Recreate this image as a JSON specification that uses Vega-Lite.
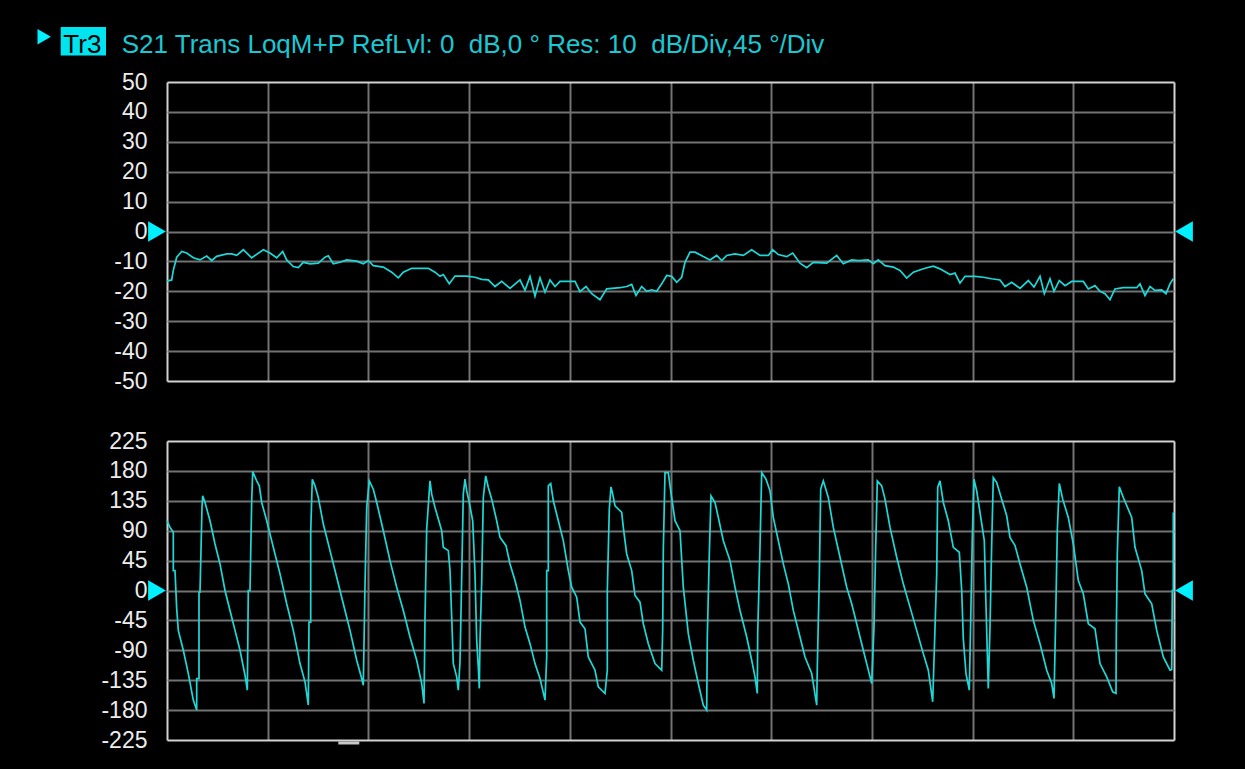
{
"$schema": "https://vega.github.io/schema/vega-lite/v6.json",
"background": "black",
"padding": {"left": 37, "top": 26, "right": 52, "bottom": 25},
"config": {"view": {"stroke": null}, "font": "Liberation Sans"},
"spacing": 60,
"bounds": "flush",
"datasets": {
"header": [{"trace": "Tr3", "desc": "S21 Trans LoqM+P RefLvl: 0\u00a0 dB,0 ° Res: 10\u00a0 dB/Div,45 °/Div"}],
"ref": [{"level": 0}],
"mag": [{"x":0,"mag":-16.6},{"x":4.7,"mag":-16.2},{"x":6.3,"mag":-13},{"x":9.7,"mag":-8.6},{"x":14.7,"mag":-6.7},{"x":19.7,"mag":-7.2},{"x":26.3,"mag":-8.8},{"x":33,"mag":-9.5},{"x":39.7,"mag":-8.2},{"x":44.7,"mag":-9.7},{"x":49.7,"mag":-8.3},{"x":59.7,"mag":-7.5},{"x":64.7,"mag":-7.5},{"x":69.7,"mag":-8},{"x":76.3,"mag":-6.1},{"x":84.7,"mag":-8.8},{"x":96.3,"mag":-6.1},{"x":103,"mag":-7.2},{"x":109.7,"mag":-8.8},{"x":115.7,"mag":-6.7},{"x":119.7,"mag":-9.5},{"x":126.3,"mag":-11.7},{"x":131.3,"mag":-12.1},{"x":136.3,"mag":-10.3},{"x":143,"mag":-10.8},{"x":151.3,"mag":-10.6},{"x":158,"mag":-8.6},{"x":161.3,"mag":-8.1},{"x":166.3,"mag":-10.8},{"x":173,"mag":-10.3},{"x":179.7,"mag":-9.5},{"x":189.7,"mag":-9.9},{"x":196.3,"mag":-10.8},{"x":201.3,"mag":-9.7},{"x":206.3,"mag":-11.4},{"x":216.3,"mag":-11.9},{"x":224.7,"mag":-13.6},{"x":231.3,"mag":-15.5},{"x":236.3,"mag":-13.6},{"x":244.7,"mag":-12.3},{"x":261.3,"mag":-12.3},{"x":268,"mag":-13.6},{"x":273,"mag":-15},{"x":276.3,"mag":-14.4},{"x":282.3,"mag":-17.5},{"x":288,"mag":-14.9},{"x":299.7,"mag":-14.9},{"x":308,"mag":-15.3},{"x":314.7,"mag":-16},{"x":321.3,"mag":-16.2},{"x":328,"mag":-18.4},{"x":334.7,"mag":-16.7},{"x":343,"mag":-19},{"x":353,"mag":-16.2},{"x":358,"mag":-19.7},{"x":363,"mag":-15},{"x":368,"mag":-21.6},{"x":373,"mag":-15.5},{"x":378,"mag":-20.3},{"x":383,"mag":-16.2},{"x":388,"mag":-18.4},{"x":393,"mag":-16.7},{"x":408,"mag":-16.7},{"x":413,"mag":-20.1},{"x":419,"mag":-18.4},{"x":424.7,"mag":-20.8},{"x":433,"mag":-22.8},{"x":439.7,"mag":-19.2},{"x":453,"mag":-18.8},{"x":459.7,"mag":-18.4},{"x":464.7,"mag":-17.7},{"x":469,"mag":-21.4},{"x":474.7,"mag":-18.4},{"x":479.7,"mag":-20},{"x":484.7,"mag":-19.5},{"x":489.7,"mag":-20},{"x":494.7,"mag":-17.5},{"x":499.7,"mag":-14.7},{"x":504.7,"mag":-15},{"x":509.7,"mag":-17},{"x":514.7,"mag":-15.3},{"x":518,"mag":-10.3},{"x":523,"mag":-6.9},{"x":528,"mag":-6.9},{"x":536.3,"mag":-8.4},{"x":543,"mag":-9.5},{"x":549.7,"mag":-8},{"x":554.7,"mag":-9.7},{"x":559.7,"mag":-8},{"x":568,"mag":-7.5},{"x":576.3,"mag":-8},{"x":584.7,"mag":-6.1},{"x":593,"mag":-8},{"x":601.3,"mag":-8},{"x":605.7,"mag":-6.1},{"x":611.3,"mag":-7.7},{"x":619.7,"mag":-8.4},{"x":625.7,"mag":-7.2},{"x":633,"mag":-10.6},{"x":639.7,"mag":-12.1},{"x":646.3,"mag":-10.3},{"x":659.7,"mag":-10.6},{"x":669.7,"mag":-8},{"x":676.3,"mag":-10.8},{"x":684.7,"mag":-9.5},{"x":691.3,"mag":-9.7},{"x":701.3,"mag":-9.5},{"x":706.3,"mag":-10.8},{"x":711.3,"mag":-9.5},{"x":718,"mag":-11.4},{"x":726.3,"mag":-11.9},{"x":733,"mag":-13},{"x":739.7,"mag":-15.6},{"x":746.3,"mag":-13.6},{"x":758,"mag":-12.3},{"x":766.3,"mag":-11.6},{"x":773,"mag":-12.5},{"x":783,"mag":-14.4},{"x":788,"mag":-13.9},{"x":793,"mag":-17.3},{"x":798,"mag":-15},{"x":808,"mag":-15},{"x":816.3,"mag":-15.3},{"x":824.7,"mag":-15.8},{"x":833,"mag":-16.2},{"x":838,"mag":-18.4},{"x":844.7,"mag":-17},{"x":853,"mag":-19},{"x":861.3,"mag":-16.4},{"x":867,"mag":-18.6},{"x":873,"mag":-15},{"x":877.3,"mag":-20.8},{"x":883,"mag":-15.8},{"x":887,"mag":-20},{"x":892.3,"mag":-16.4},{"x":898,"mag":-18.1},{"x":904.7,"mag":-16.7},{"x":916.3,"mag":-16.7},{"x":921.3,"mag":-19.2},{"x":928,"mag":-18.1},{"x":933,"mag":-20},{"x":938,"mag":-20.8},{"x":943,"mag":-22.8},{"x":948,"mag":-19.2},{"x":956.3,"mag":-18.8},{"x":969.7,"mag":-18.8},{"x":973,"mag":-17.5},{"x":978,"mag":-21.4},{"x":983,"mag":-18.4},{"x":988,"mag":-19.7},{"x":994.7,"mag":-19.5},{"x":999,"mag":-20.8},{"x":1003,"mag":-17.5},{"x":1006.3,"mag":-15.8}],
"phase": [{"x":0,"p":105},{"x":3,"p":95},{"x":6.3,"p":87.5},{"x":6.3,"p":30},{"x":8,"p":30},{"x":9.7,"p":-27.5},{"x":11.3,"p":-60},{"x":16.3,"p":-90},{"x":21.3,"p":-125},{"x":26.3,"p":-165},{"x":29.7,"p":-180},{"x":29.7,"p":-132.5},{"x":32,"p":-132.5},{"x":32,"p":-2.5},{"x":33,"p":-2.5},{"x":35,"p":125},{"x":35.7,"p":142.5},{"x":38,"p":132.5},{"x":43,"p":105},{"x":48,"p":70},{"x":53,"p":40},{"x":58,"p":0},{"x":63,"p":-30},{"x":68,"p":-60},{"x":73,"p":-90},{"x":78,"p":-127.5},{"x":80.3,"p":-150},{"x":81.3,"p":0},{"x":83,"p":0},{"x":84.7,"p":135},{"x":85.7,"p":179},{"x":89.7,"p":165},{"x":92.3,"p":157.5},{"x":94.7,"p":132.5},{"x":99.7,"p":105},{"x":106.3,"p":65},{"x":113,"p":25},{"x":119.7,"p":-20},{"x":126.3,"p":-60},{"x":133,"p":-110},{"x":138,"p":-137.5},{"x":141.3,"p":-172.5},{"x":142,"p":-47.5},{"x":143.7,"p":-47.5},{"x":143.7,"p":87.5},{"x":145.3,"p":167.5},{"x":148,"p":157.5},{"x":151.3,"p":140},{"x":156.3,"p":100},{"x":163,"p":60},{"x":169.7,"p":20},{"x":176.3,"p":-20},{"x":183,"p":-60},{"x":189.7,"p":-105},{"x":194.7,"p":-132.5},{"x":196.3,"p":-142.5},{"x":198,"p":7.5},{"x":199.7,"p":125},{"x":202.3,"p":165},{"x":206.3,"p":152.5},{"x":209.7,"p":132.5},{"x":216.3,"p":90},{"x":223,"p":45},{"x":229.7,"p":5},{"x":236.3,"p":-30},{"x":243,"p":-70},{"x":249.7,"p":-105},{"x":254.7,"p":-140},{"x":257,"p":-170},{"x":258,"p":-42.5},{"x":259.7,"p":92.5},{"x":263,"p":165},{"x":264.7,"p":145},{"x":268,"p":125},{"x":274.7,"p":90},{"x":276.3,"p":65},{"x":281.3,"p":60},{"x":283,"p":30},{"x":284.7,"p":-40},{"x":286.3,"p":-110},{"x":289.7,"p":-130},{"x":291.3,"p":-150},{"x":293,"p":-107.5},{"x":294.7,"p":20},{"x":296.3,"p":145},{"x":298,"p":167.5},{"x":299.7,"p":150},{"x":302.3,"p":132.5},{"x":305.7,"p":105},{"x":308,"p":25},{"x":309.7,"p":-75},{"x":311.3,"p":-115},{"x":312.3,"p":-147.5},{"x":313,"p":-75},{"x":314.7,"p":12.5},{"x":316.3,"p":140},{"x":318.7,"p":172.5},{"x":321.3,"p":155},{"x":324.7,"p":137.5},{"x":329.7,"p":105},{"x":333,"p":80},{"x":339,"p":67.5},{"x":343,"p":40},{"x":348,"p":15},{"x":353,"p":-15},{"x":358,"p":-55},{"x":363,"p":-80},{"x":368,"p":-110},{"x":373,"p":-132.5},{"x":378,"p":-165},{"x":379.7,"p":-100},{"x":379.7,"p":30},{"x":381.3,"p":30},{"x":381.3,"p":157.5},{"x":383.7,"p":161},{"x":386.3,"p":135},{"x":391.3,"p":105},{"x":396.3,"p":75},{"x":401.3,"p":30},{"x":404.7,"p":5},{"x":409.7,"p":-10},{"x":413,"p":-47.5},{"x":418,"p":-57.5},{"x":421.3,"p":-100},{"x":428,"p":-120},{"x":431.3,"p":-145},{"x":438,"p":-155},{"x":440.3,"p":-120},{"x":440.3,"p":0},{"x":442.3,"p":122.5},{"x":444,"p":156},{"x":445.7,"p":145},{"x":448,"p":127.5},{"x":454.7,"p":117.5},{"x":456.3,"p":95},{"x":459.7,"p":55},{"x":464.7,"p":30},{"x":468,"p":-7.5},{"x":473,"p":-17.5},{"x":476.3,"p":-50},{"x":481.3,"p":-80},{"x":488,"p":-110},{"x":494.7,"p":-120},{"x":495.7,"p":-57.5},{"x":496.3,"p":60},{"x":498,"p":177.5},{"x":501.3,"p":177.5},{"x":503.7,"p":150},{"x":508,"p":105},{"x":513,"p":90},{"x":516.3,"p":5},{"x":521.3,"p":-65},{"x":526.3,"p":-105},{"x":531.3,"p":-140},{"x":536.3,"p":-172.5},{"x":539.7,"p":-180},{"x":540.3,"p":-70},{"x":542.3,"p":55},{"x":544,"p":142.5},{"x":548,"p":132.5},{"x":551.3,"p":110},{"x":556.3,"p":75},{"x":563,"p":45},{"x":568,"p":5},{"x":573,"p":-30},{"x":579.7,"p":-70},{"x":584.7,"p":-105},{"x":588,"p":-130},{"x":590.3,"p":-155},{"x":590.7,"p":-65},{"x":593,"p":65},{"x":594.7,"p":177.5},{"x":599,"p":167.5},{"x":603,"p":150},{"x":606.3,"p":110},{"x":611.3,"p":75},{"x":616.3,"p":40},{"x":621.3,"p":10},{"x":626.3,"p":-30},{"x":633,"p":-70},{"x":638,"p":-100},{"x":644.7,"p":-125},{"x":649.7,"p":-172.5},{"x":650.3,"p":-115},{"x":652.3,"p":20},{"x":653.7,"p":152.5},{"x":656.3,"p":165},{"x":661.3,"p":140},{"x":666.3,"p":95},{"x":673,"p":50},{"x":679.7,"p":5},{"x":684.7,"p":-20},{"x":689.7,"p":-50},{"x":696.3,"p":-90},{"x":699.7,"p":-110},{"x":704.7,"p":-140},{"x":707,"p":-55},{"x":708.7,"p":65},{"x":710.3,"p":165},{"x":714.7,"p":157.5},{"x":718,"p":137.5},{"x":723,"p":95},{"x":729.7,"p":50},{"x":736.3,"p":10},{"x":743,"p":-25},{"x":749.7,"p":-60},{"x":756.3,"p":-95},{"x":761.3,"p":-120},{"x":765.7,"p":-167.5},{"x":767,"p":-105},{"x":769.7,"p":25},{"x":770.7,"p":155},{"x":773,"p":165},{"x":776.3,"p":132.5},{"x":781.3,"p":105},{"x":786.3,"p":65},{"x":792.3,"p":57.5},{"x":794.7,"p":0},{"x":796.3,"p":-72.5},{"x":799,"p":-125},{"x":802.3,"p":-150},{"x":803.7,"p":-45},{"x":805.3,"p":80},{"x":807,"p":167.5},{"x":809.7,"p":150},{"x":813,"p":117.5},{"x":817.3,"p":75},{"x":819,"p":-22.5},{"x":821.3,"p":-147.5},{"x":823,"p":-55},{"x":824.7,"p":70},{"x":826.3,"p":170},{"x":829.7,"p":162.5},{"x":834.7,"p":137.5},{"x":839.7,"p":112.5},{"x":843,"p":80},{"x":848,"p":67.5},{"x":853,"p":40},{"x":859.7,"p":5},{"x":866.3,"p":-45},{"x":873,"p":-80},{"x":879.7,"p":-120},{"x":884.7,"p":-140},{"x":887,"p":-162.5},{"x":888.7,"p":-40},{"x":890.3,"p":90},{"x":892.3,"p":161},{"x":895.7,"p":137.5},{"x":901.3,"p":110},{"x":906.3,"p":70},{"x":911.3,"p":15},{"x":916.3,"p":-5},{"x":921.3,"p":-50},{"x":928,"p":-57.5},{"x":933,"p":-110},{"x":939.7,"p":-130},{"x":945.7,"p":-152.5},{"x":949,"p":-155},{"x":949.3,"p":-65},{"x":950.3,"p":55},{"x":952.3,"p":156},{"x":956.3,"p":140},{"x":964.7,"p":110},{"x":968,"p":65},{"x":974.7,"p":30},{"x":978,"p":-5},{"x":984.7,"p":-20},{"x":989.7,"p":-60},{"x":996.3,"p":-100},{"x":1003,"p":-120},{"x":1004.7,"p":-119},{"x":1005.3,"p":0},{"x":1006.3,"p":0},{"x":1006.3,"p":117.5}]
},
"vconcat": [
{
"width": 1007, "height": 299,
"resolve": {"axis": {"x": "independent", "y": "independent"}},
"layer": [
{"data": {"name": "mag"},
 "mark": {"type": "line", "color": "#1ed8d8", "strokeWidth": 1.7},
 "encoding": {
  "x": {"field": "x", "type": "quantitative", "scale": {"domain": [0, 1007], "nice": false, "zero": false},
   "axis": {"values": [0,100.7,201.4,302.1,402.8,503.5,604.2,704.9,805.6,906.3,1007], "labels": false, "ticks": false, "domain": false, "title": null, "grid": true, "gridWidth": 2, "gridOpacity": 1,
    "gridColor": {"condition": {"test": "datum.value <= 0.1 || datum.value >= 1006.9", "value": "#d2d2d2"}, "value": "#727272"}}},
  "y": {"field": "mag", "type": "quantitative", "scale": {"domain": [-50, 50], "nice": false, "zero": false},
   "axis": {"values": [-50,-40,-30,-20,-10,0,10,20,30,40,50], "labelExpr": "toString(datum.value)", "labelOverlap": false, "title": null, "ticks": false, "tickSize": 0, "domain": false, "labelPadding": 20, "labelFontSize": 23, "labelFont": "Liberation Sans", "labelColor": "#ececec", "grid": true, "gridWidth": 2, "gridOpacity": 1,
    "gridColor": {"condition": {"test": "abs(datum.value) >= 50", "value": "#d2d2d2"}, "value": "#727272"}}},
  "order": {"value": null}
 }},
{"data": {"name": "ref"},
 "mark": {"type": "point", "shape": "triangle-right", "filled": true, "size": 420, "color": "#00f0ff", "opacity": 1, "xOffset": -10},
 "encoding": {"x": {"datum": 0, "type": "quantitative", "axis": null}, "y": {"field": "level", "type": "quantitative", "axis": null}}},
{"data": {"name": "ref"},
 "mark": {"type": "point", "shape": "triangle-left", "filled": true, "size": 420, "color": "#00f0ff", "opacity": 1, "xOffset": 10},
 "encoding": {"x": {"datum": 1007, "type": "quantitative", "axis": null}, "y": {"field": "level", "type": "quantitative", "axis": null}}},
{"data": {"name": "header"},
 "mark": {"type": "rect", "color": "#00e4f0"},
 "encoding": {"x": {"datum": -106.3, "type": "quantitative", "axis": null}, "x2": {"datum": -61}, "y": {"datum": 68.4, "type": "quantitative", "axis": null}, "y2": {"datum": 58.9}}},
{"data": {"name": "header"},
 "mark": {"type": "text", "align": "left", "baseline": "alphabetic", "fontSize": 26, "font": "Liberation Sans", "color": "#000000"},
 "encoding": {"x": {"datum": -103.7, "type": "quantitative", "axis": null}, "y": {"datum": 59.6, "type": "quantitative", "axis": null}, "text": {"field": "trace"}}},
{"data": {"name": "header"},
 "mark": {"type": "text", "align": "left", "baseline": "alphabetic", "fontSize": 26, "font": "Liberation Sans", "color": "#1ac8d4"},
 "encoding": {"x": {"datum": -45.3, "type": "quantitative", "axis": null}, "y": {"datum": 59.6, "type": "quantitative", "axis": null}, "text": {"field": "desc"}}},
{"data": {"name": "header"},
 "mark": {"type": "point", "shape": "triangle-right", "filled": true, "size": 240, "color": "#00f0ff", "opacity": 1},
 "encoding": {"x": {"datum": -122.8, "type": "quantitative", "axis": null}, "y": {"datum": 65.1, "type": "quantitative", "axis": null}}}
]
},
{
"width": 1007, "height": 299,
"resolve": {"axis": {"x": "independent", "y": "independent"}},
"layer": [
{"data": {"name": "phase"},
 "mark": {"type": "line", "color": "#1ed8d8", "strokeWidth": 1.7},
 "encoding": {
  "x": {"field": "x", "type": "quantitative", "scale": {"domain": [0, 1007], "nice": false, "zero": false},
   "axis": {"values": [0,100.7,201.4,302.1,402.8,503.5,604.2,704.9,805.6,906.3,1007], "labels": false, "ticks": false, "domain": false, "title": null, "grid": true, "gridWidth": 2, "gridOpacity": 1,
    "gridColor": {"condition": {"test": "datum.value <= 0.1 || datum.value >= 1006.9", "value": "#d2d2d2"}, "value": "#727272"}}},
  "y": {"field": "p", "type": "quantitative", "scale": {"domain": [-225, 225], "nice": false, "zero": false},
   "axis": {"values": [-225,-180,-135,-90,-45,0,45,90,135,180,225], "labelExpr": "toString(datum.value)", "labelOverlap": false, "title": null, "ticks": false, "tickSize": 0, "domain": false, "labelPadding": 20, "labelFontSize": 23, "labelFont": "Liberation Sans", "labelColor": "#ececec", "grid": true, "gridWidth": 2, "gridOpacity": 1,
    "gridColor": {"condition": {"test": "abs(datum.value) >= 225", "value": "#d2d2d2"}, "value": "#727272"}}},
  "order": {"value": null}
 }},
{"data": {"name": "ref"},
 "mark": {"type": "point", "shape": "triangle-right", "filled": true, "size": 420, "color": "#00f0ff", "opacity": 1, "xOffset": -10},
 "encoding": {"x": {"datum": 0, "type": "quantitative", "axis": null}, "y": {"field": "level", "type": "quantitative", "axis": null}}},
{"data": {"name": "ref"},
 "mark": {"type": "point", "shape": "triangle-left", "filled": true, "size": 420, "color": "#00f0ff", "opacity": 1, "xOffset": 10},
 "encoding": {"x": {"datum": 1007, "type": "quantitative", "axis": null}, "y": {"field": "level", "type": "quantitative", "axis": null}}},
{"data": {"name": "header"},
 "mark": {"type": "rule", "color": "#c8c8c8", "strokeWidth": 3},
 "encoding": {"x": {"datum": 171.3, "type": "quantitative", "axis": null}, "x2": {"datum": 192.3}, "y": {"datum": -229.5, "type": "quantitative", "axis": null}}}
]
}
]
}
